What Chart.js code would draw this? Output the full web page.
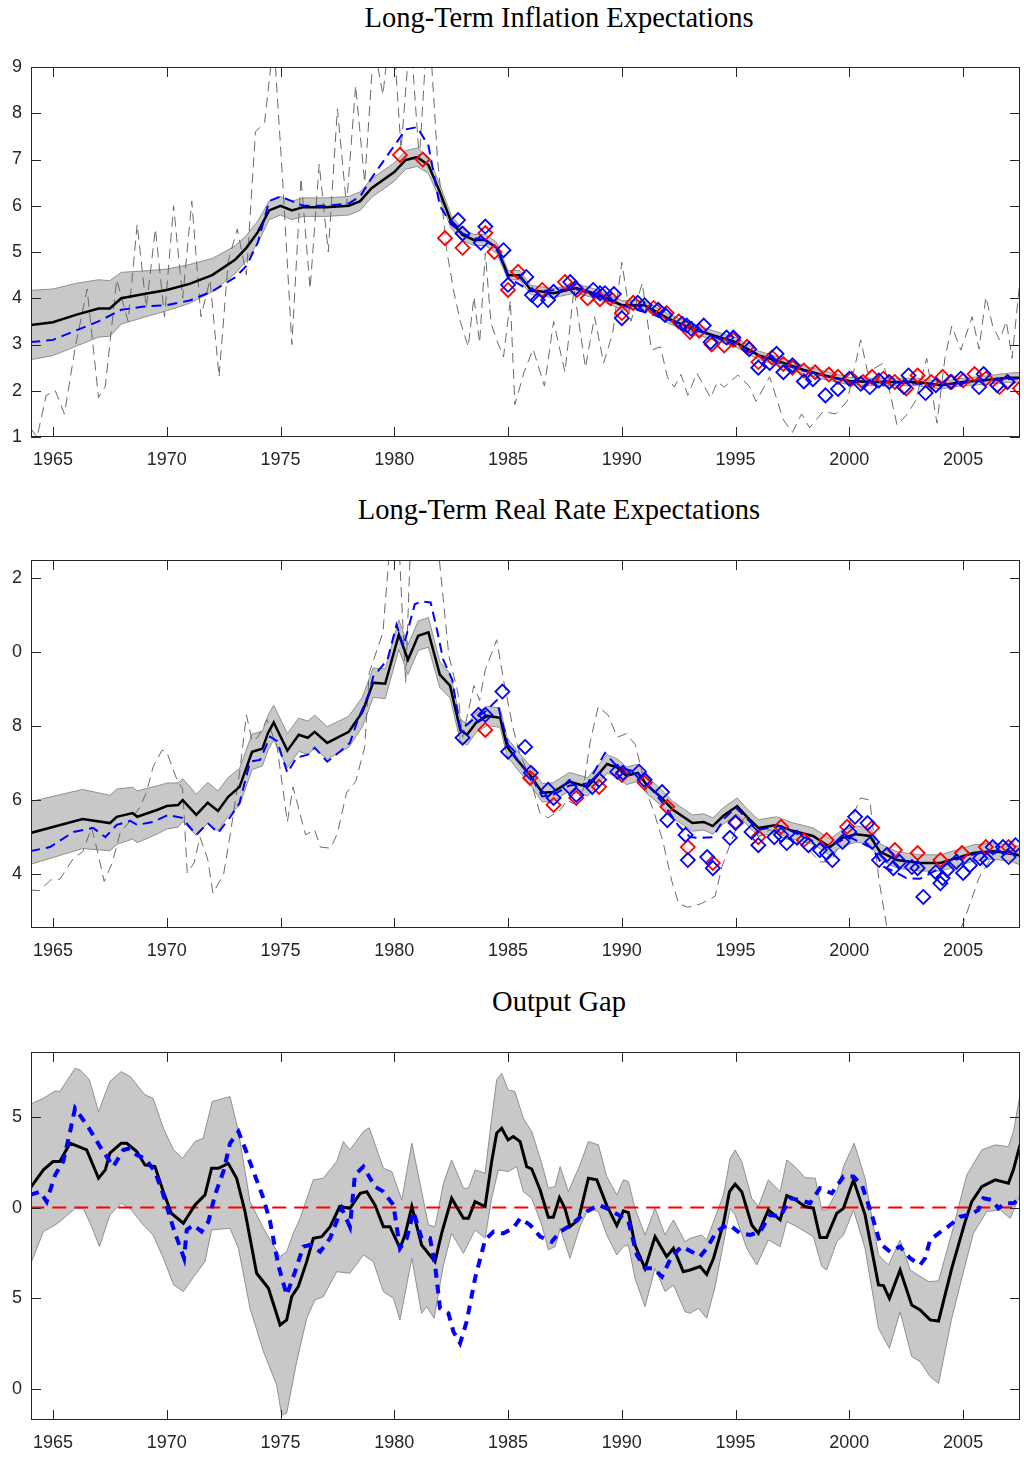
<!DOCTYPE html>
<html>
<head>
<meta charset="utf-8">
<script src="https://cdn.jsdelivr.net/npm/chart.js@4"></script>
<style>
    body { margin: 0; background: #fff; }
    #page { position: relative; width: 1024px; height: 1457px; background: #fff; overflow: hidden; }
    canvas { position: absolute; left: 0; }
    .title { position: absolute; left: 0; width: 1118px; text-align: center; font-family: "Liberation Serif", serif; font-size: 28.5px; line-height: 28px; color: #000; }
</style>
</head>
<body>
<div id="page">
    <div class="title" style="top:4px">Long-Term Inflation Expectations</div>
    <div class="title" style="top:496px">Long-Term Real Rate Expectations</div>
    <div class="title" style="top:988px">Output Gap</div>
    <canvas id="infl" width="1024" height="416" style="top:55px"></canvas>
    <canvas id="real" width="1024" height="414" style="top:548px"></canvas>
    <canvas id="gap" width="1024" height="414" style="top:1040px"></canvas>
</div>
<script>
// ---------- shared axis data ----------
const xMin = 1964.033;
const xMax = 2007.5;
const yearTicks = [1965, 1970, 1975, 1980, 1985, 1990, 1995, 2000, 2005];

// ---------- panel 1: long-term inflation expectations ----------
const inflTicks = [1, 2, 3, 4, 5, 6, 7, 8, 9];
const inflTickLabels = ['1', '2', '3', '4', '5', '6', '7', '8', '9'];

const inflYears = [1964,1965,1966,1967,1967.5,1968,1969,1970,1971,1972,1973,1973.5,1974,1974.5,1975,1975.5,1976,1977,1978,1978.5,1979,1980,1980.5,1981,1981.5,1982,1982.5,1983,1983.5,1984,1984.5,1985,1985.5,1986,1987,1988,1989,1990,1991,1992,1993,1994,1995,1996,1997,1998,1999,2000,2001,2002,2003,2004,2005,2006,2007,2007.5];
const inflMid = [3.42,3.48,3.64,3.78,3.78,4.0,4.09,4.18,4.31,4.5,4.83,5.09,5.43,5.9,6.0,5.9,5.97,5.97,6.0,6.1,6.38,6.73,6.99,7.05,6.88,6.3,5.65,5.37,5.26,5.26,5.09,4.5,4.5,4.18,4.11,4.22,4.07,3.85,3.85,3.57,3.36,3.2,3.05,2.77,2.62,2.45,2.32,2.21,2.19,2.19,2.19,2.12,2.19,2.23,2.28,2.28];
const inflHi = [4.17,4.2,4.32,4.4,4.38,4.56,4.59,4.63,4.73,4.86,5.13,5.36,5.67,6.1,6.2,6.1,6.17,6.17,6.2,6.3,6.58,6.93,7.19,7.25,7.06,6.46,5.79,5.49,5.38,5.38,5.21,4.6,4.6,4.28,4.21,4.32,4.17,3.95,3.95,3.67,3.46,3.3,3.15,2.86,2.71,2.54,2.41,2.29,2.27,2.27,2.27,2.2,2.27,2.32,2.38,2.4];
const inflLo = [2.67,2.76,2.96,3.16,3.18,3.44,3.59,3.73,3.89,4.14,4.53,4.82,5.19,5.7,5.8,5.7,5.77,5.77,5.8,5.9,6.18,6.53,6.79,6.85,6.7,6.14,5.51,5.25,5.14,5.14,4.97,4.4,4.4,4.08,4.01,4.12,3.97,3.75,3.75,3.47,3.26,3.1,2.95,2.68,2.53,2.36,2.23,2.13,2.11,2.11,2.11,2.04,2.11,2.14,2.18,2.16];

const inflAltYears = [1964,1965,1966,1967,1968,1969,1970,1971,1972,1973,1973.5,1974,1974.5,1975,1976,1977,1978,1978.5,1979,1980,1980.5,1981,1981.5,1982,1982.5,1983,1983.5,1984,1984.5,1985,1986,1988,1990,1992,1994,1996,1998,2000,2002,2004,2006,2007.5];
const inflAlt = [3.05,3.1,3.3,3.5,3.75,3.82,3.85,3.95,4.15,4.45,4.7,5.2,6.1,6.2,6.0,6.0,6.05,6.2,6.6,7.3,7.65,7.7,7.3,6.0,5.6,5.4,5.3,5.25,5.1,4.45,4.15,4.2,3.85,3.55,3.18,2.75,2.43,2.2,2.18,2.12,2.22,2.27];

const inflActYears = [1964,1964.3,1964.7,1965.1,1965.5,1966,1966.5,1967,1967.3,1967.8,1968.3,1968.7,1969.1,1969.5,1969.9,1970.3,1970.7,1971.1,1971.5,1971.9,1972.3,1972.7,1973.1,1973.5,1973.9,1974.3,1974.7,1975.1,1975.5,1975.9,1976.3,1976.7,1977.1,1977.5,1977.9,1978.3,1978.7,1979.1,1979.5,1979.9,1980.3,1980.7,1981.1,1981.5,1981.9,1982.3,1982.6,1982.9,1983.25,1983.5,1983.75,1984,1984.25,1984.5,1984.8,1985.1,1985.3,1985.7,1986.1,1986.6,1987,1987.5,1987.9,1988.4,1988.8,1989.2,1989.6,1990,1990.4,1990.9,1991.3,1991.7,1992,1992.3,1992.6,1992.9,1993.3,1993.9,1994.2,1994.5,1995.1,1995.6,1995.9,1996.5,1997.1,1997.5,1997.9,1998.25,1998.85,1999.4,1999.9,2000.5,2000.8,2001.5,2002.1,2002.5,2002.9,2003.4,2003.85,2004.2,2004.5,2004.9,2005.4,2005.7,2006,2006.3,2006.6,2006.9,2007.15,2007.5];
const inflAct = [1.2,1.0,1.9,2.0,1.5,3.0,4.2,1.85,2.1,4.4,3.5,5.6,3.8,5.5,3.6,6.0,4.0,6.1,3.6,4.4,2.3,4.8,5.5,4.5,7.6,7.8,9.6,6.5,3.0,6.6,4.2,6.9,5.0,8.1,6.0,8.6,6.5,9.5,8.4,10.2,7.2,9.8,7.0,10.2,7.0,5.05,4.18,3.5,2.95,4.03,3.03,4.98,3.46,3.1,2.73,3.96,1.7,2.4,2.9,2.1,3.5,2.4,4.2,2.5,3.6,2.6,3.25,4.78,3.5,4.33,2.88,2.95,2.3,2.08,2.35,1.9,2.38,1.85,2.19,2.08,2.34,2.1,1.77,2.3,1.37,1.1,1.5,1.2,1.55,1.5,1.77,3.1,2.4,2.6,1.25,1.47,1.77,2.7,1.3,2.7,3.4,2.88,3.6,2.9,4.03,3.4,3.1,3.5,2.7,4.4];

const inflRedYears = [1980.25,1981.25,1982.23,1983.0,1984.0,1984.4,1985.0,1985.44,1986.5,1987.5,1988.03,1988.5,1989.04,1989.5,1990.0,1990.5,1991.4,1991.97,1992.5,1993.0,1993.4,1993.95,1994.5,1994.9,1995.5,1996.0,1996.6,1997.1,1997.5,1998.0,1998.5,1999.1,1999.5,2000.1,2000.6,2001.0,2001.5,2002.0,2002.5,2003.0,2003.6,2004.1,2004.5,2005.0,2005.5,2006.0,2006.6,2006.95,2007.5];
const inflRed = [7.1,7.0,5.3,5.09,5.41,5.0,4.18,4.57,4.18,4.35,4.18,4.0,3.98,4.0,3.68,3.9,3.79,3.68,3.5,3.27,3.3,3.0,2.98,3.1,2.95,2.62,2.72,2.58,2.5,2.44,2.4,2.35,2.3,2.26,2.19,2.3,2.26,2.19,2.05,2.33,2.19,2.3,2.19,2.22,2.36,2.26,2.08,2.19,2.05];

const inflBlueYears = [1982.8,1983.0,1983.8,1984.0,1984.8,1985.0,1985.8,1986.05,1986.3,1986.76,1987.0,1987.73,1987.96,1988.74,1989.04,1989.26,1989.65,1990.0,1990.7,1991.0,1991.6,1991.9,1992.65,1992.85,1993.05,1993.6,1993.9,1994.6,1994.9,1995.6,1996.0,1996.5,1996.8,1997.1,1997.5,1998.0,1998.4,1998.95,1999.5,2000.0,2000.5,2000.9,2001.3,2001.75,2002.4,2002.6,2003.35,2003.8,2004.45,2004.9,2005.7,2005.9,2006.5,2006.95];
const inflBlue = [5.69,5.4,5.2,5.55,5.04,4.29,4.46,4.07,3.96,3.96,4.14,4.35,4.22,4.18,4.11,4.11,4.09,3.57,3.9,3.85,3.75,3.64,3.45,3.41,3.34,3.41,3.05,3.15,3.15,2.9,2.5,2.6,2.8,2.4,2.55,2.2,2.25,1.9,2.04,2.26,2.15,2.08,2.22,2.19,2.08,2.33,1.95,2.12,2.19,2.26,2.08,2.36,2.12,2.19];

// ---------- panel 2: long-term real rate expectations ----------
const realTicks = [2.4, 2.6, 2.8, 3.0, 3.2];
const realTickLabels = ['4', '6', '8', '0', '2'];

const realYears = [1964,1966.3,1967.5,1967.8,1968.5,1968.7,1969.6,1970,1970.5,1970.7,1971.3,1971.8,1972.25,1972.7,1973.2,1973.75,1974.2,1974.45,1974.7,1975.3,1975.8,1976.2,1976.5,1977.05,1977.5,1978,1978.6,1979.07,1979.6,1980.2,1980.6,1981.05,1981.5,1982,1982.45,1982.9,1983.2,1983.6,1984.1,1984.65,1984.96,1985.4,1985.97,1986.5,1986.98,1987.7,1988.5,1989.35,1989.8,1990.2,1990.7,1991.1,1991.7,1992.25,1993.1,1993.6,1994,1994.45,1995.07,1995.5,1996,1996.8,1997.5,1998.4,1999.15,1999.7,2000.3,2000.9,2001.35,2002.1,2003.1,2004,2004.7,2005.45,2006.3,2007.07,2007.5];
const realMid = [2.511,2.549,2.538,2.555,2.565,2.555,2.574,2.584,2.587,2.6,2.56,2.593,2.571,2.609,2.636,2.731,2.739,2.782,2.81,2.734,2.777,2.769,2.785,2.755,2.769,2.785,2.839,2.918,2.915,3.048,2.98,3.045,3.054,2.94,2.91,2.79,2.777,2.81,2.828,2.823,2.744,2.709,2.668,2.62,2.622,2.65,2.636,2.698,2.688,2.666,2.674,2.641,2.609,2.574,2.538,2.541,2.53,2.557,2.584,2.555,2.525,2.533,2.517,2.503,2.473,2.498,2.508,2.503,2.46,2.438,2.43,2.43,2.443,2.457,2.462,2.457,2.45];
const realHi = [2.596,2.629,2.613,2.63,2.635,2.625,2.639,2.646,2.647,2.658,2.616,2.648,2.625,2.661,2.686,2.779,2.786,2.829,2.857,2.78,2.822,2.814,2.83,2.799,2.812,2.827,2.879,2.958,2.955,3.088,3.02,3.085,3.094,2.975,2.943,2.82,2.805,2.837,2.854,2.849,2.769,2.734,2.693,2.645,2.647,2.675,2.661,2.723,2.712,2.69,2.697,2.664,2.631,2.596,2.56,2.563,2.552,2.579,2.606,2.577,2.547,2.555,2.539,2.525,2.495,2.52,2.53,2.525,2.482,2.46,2.452,2.452,2.465,2.479,2.484,2.479,2.475];
const realLo = [2.426,2.469,2.463,2.48,2.495,2.485,2.509,2.522,2.527,2.542,2.504,2.538,2.517,2.557,2.586,2.683,2.692,2.735,2.763,2.688,2.732,2.724,2.74,2.711,2.726,2.743,2.799,2.878,2.875,3.008,2.94,3.005,3.014,2.905,2.877,2.76,2.749,2.783,2.802,2.797,2.719,2.684,2.643,2.595,2.597,2.625,2.611,2.673,2.664,2.642,2.651,2.618,2.587,2.552,2.516,2.519,2.508,2.535,2.562,2.533,2.503,2.511,2.495,2.481,2.451,2.476,2.486,2.481,2.438,2.416,2.408,2.408,2.421,2.435,2.44,2.435,2.425];

const realAltYears = [1964,1964.87,1965.9,1966.76,1967.3,1967.8,1968.4,1968.7,1969.4,1970.05,1970.67,1971.3,1971.8,1972.25,1972.8,1973.2,1973.66,1974.1,1974.54,1974.85,1975.3,1975.7,1976.2,1976.5,1977.05,1977.6,1978.05,1978.4,1978.9,1979.07,1979.7,1980.1,1980.4,1980.9,1981.2,1981.6,1981.9,1982.15,1982.55,1982.9,1983.5,1984.0,1984.5,1985.0,1985.5,1986.0,1986.5,1987.0,1987.7,1988.5,1989.26,1989.8,1990.7,1991.7,1992.5,1993.0,1993.4,1994.0,1994.5,1995.0,1996.0,1997.0,1998.0,1999.0,2000.0,2001.0,2001.5,2002.1,2002.5,2003.1,2003.8,2004.5,2005.2,2006.0,2007.0,2007.5];
const realAlt = [2.462,2.473,2.514,2.525,2.5,2.533,2.544,2.533,2.541,2.56,2.552,2.506,2.538,2.511,2.555,2.593,2.704,2.709,2.772,2.76,2.674,2.715,2.723,2.742,2.704,2.731,2.755,2.818,2.89,2.934,2.98,3.075,3.016,3.13,3.138,3.135,3.054,2.98,2.926,2.79,2.82,2.84,2.87,2.75,2.7,2.665,2.61,2.615,2.64,2.645,2.728,2.69,2.675,2.6,2.53,2.5,2.498,2.5,2.55,2.58,2.52,2.53,2.5,2.475,2.5,2.47,2.42,2.403,2.389,2.387,2.41,2.435,2.45,2.46,2.455,2.45];

const realActYears = [1964,1964.4,1964.9,1965.3,1965.9,1966.3,1966.7,1967,1967.25,1967.6,1967.95,1968.4,1968.8,1969.1,1969.4,1969.8,1970,1970.45,1970.7,1970.9,1971.2,1971.46,1971.8,1972.03,1972.5,1972.8,1973.2,1973.5,1973.75,1974,1974.4,1974.85,1975.3,1975.55,1976.1,1976.5,1976.75,1977.2,1977.5,1977.9,1978.3,1978.7,1978.9,1979.5,1979.95,1980.2,1980.5,1980.8,1981.1,1981.5,1981.9,1982.4,1982.8,1983,1983.5,1983.75,1984,1984.5,1984.8,1985.2,1985.5,1985.97,1986.4,1986.76,1987.3,1987.6,1987.9,1988.3,1988.6,1988.96,1989.4,1989.8,1990.2,1990.6,1991.1,1991.4,1991.8,1992.2,1992.5,1992.9,1993.5,1994.1,1994.4,1995,1995.5,1996,1996.5,1997,1997.5,1998,1998.7,1999.2,1999.7,2000.1,2000.5,2000.9,2001.3,2001.65,2002.2,2003,2004,2004.5,2005,2005.7,2006.3,2007.1,2007.5];
const realAct = [2.357,2.355,2.384,2.386,2.443,2.46,2.525,2.45,2.38,2.43,2.511,2.545,2.579,2.62,2.69,2.736,2.73,2.655,2.63,2.403,2.43,2.5,2.44,2.348,2.4,2.511,2.674,2.831,2.76,2.77,2.818,2.744,2.541,2.636,2.506,2.52,2.473,2.47,2.51,2.62,2.65,2.744,2.945,3.054,3.4,3.3,2.918,3.45,3.35,3.5,3.3,2.99,2.89,2.77,2.91,2.87,2.953,3.034,2.926,2.8,2.728,2.66,2.565,2.552,2.574,2.6,2.59,2.628,2.755,2.853,2.83,2.77,2.78,2.75,2.62,2.57,2.49,2.38,2.32,2.31,2.32,2.34,2.42,2.52,2.56,2.5,2.52,2.5,2.49,2.48,2.433,2.433,2.5,2.55,2.606,2.6,2.384,2.256,2.12,2.1,2.12,2.2,2.267,2.39,2.45,2.48,2.5];

const realRedYears = [1984.0,1985.97,1987.0,1988.0,1989.0,1990.0,1991.0,1992.0,1992.9,1994.0,1995.0,1996.0,1997.0,1998.0,1999.0,1999.9,2001.0,2002.0,2003.0,2004.0,2004.95,2006.0,2007.0];
const realRed = [2.79,2.66,2.587,2.606,2.636,2.668,2.647,2.582,2.473,2.43,2.541,2.5,2.528,2.492,2.492,2.528,2.525,2.465,2.457,2.438,2.457,2.473,2.473];

const realBlueYears = [1983.0,1983.7,1984.0,1984.75,1985.0,1985.75,1986.0,1986.76,1987.0,1987.7,1988.0,1988.7,1989.0,1989.8,1990.05,1990.76,1991.0,1991.77,1992.0,1992.8,1992.9,1993.75,1994.0,1994.75,1995.0,1995.7,1996.0,1996.7,1997.0,1997.25,1997.7,1998.2,1998.7,1999.0,1999.25,1999.7,2000.0,2000.25,2000.8,2001.0,2001.3,2001.65,2001.93,2002.2,2002.75,2003.0,2003.25,2003.8,2004.0,2004.1,2004.3,2004.7,2005.0,2005.3,2005.75,2006.05,2006.3,2006.75,2007.0,2007.3];
const realBlue = [2.769,2.831,2.831,2.894,2.731,2.744,2.674,2.628,2.606,2.636,2.614,2.636,2.655,2.677,2.674,2.677,2.655,2.622,2.546,2.506,2.438,2.446,2.416,2.498,2.538,2.514,2.478,2.5,2.506,2.484,2.498,2.478,2.465,2.457,2.438,2.487,2.514,2.555,2.538,2.487,2.438,2.452,2.416,2.433,2.419,2.416,2.338,2.405,2.375,2.389,2.411,2.433,2.403,2.424,2.443,2.438,2.473,2.473,2.446,2.478];

// ---------- panel 3: output gap ----------
const gapTicks = [-10, -5, 0, 5];
const gapTickLabels = ['0', '5', '0', '5'];

const gapYears = [1964,1964.58,1965,1965.3,1965.75,1966.48,1967,1967.3,1967.5,1968,1968.24,1968.68,1969.04,1969.48,1969.85,1970.2,1970.73,1971.24,1971.68,1971.97,1972.27,1972.7,1973.07,1973.44,1973.95,1974.47,1974.98,1975.27,1975.49,1975.78,1976.15,1976.44,1976.81,1977.18,1977.6,1978.05,1978.5,1978.79,1979.15,1979.52,1979.81,1980.25,1980.47,1980.77,1981.2,1981.79,1982.08,1982.52,1983.04,1983.26,1983.55,1983.99,1984.28,1984.5,1984.72,1985,1985.23,1985.53,1985.82,1986.04,1986.41,1986.77,1986.99,1987.26,1987.5,1987.72,1988.09,1988.53,1988.9,1989.34,1989.78,1990.07,1990.29,1990.58,1991.02,1991.46,1991.97,1992.27,1992.7,1993.0,1993.44,1993.73,1994.03,1994.47,1994.73,1994.98,1995.27,1995.71,1996,1996.44,1996.96,1997.25,1997.54,1998.05,1998.42,1998.71,1999,1999.45,1999.74,2000.18,2000.69,2001.28,2001.5,2001.76,2002.23,2002.74,2003.11,2003.55,2003.92,2004.5,2005.09,2005.38,2005.82,2006.41,2006.99,2007.21,2007.5];
const gapMid = [1.07,2.08,2.54,2.54,3.55,3.18,1.62,2.08,3.0,3.55,3.55,3.09,2.35,2.26,0.88,-0.31,-0.86,0.15,0.7,2.17,2.17,2.44,1.62,-0.22,-3.62,-4.45,-6.47,-6.19,-4.91,-4.36,-2.98,-1.69,-1.6,-1.05,0.06,-0.04,0.79,0.88,0.15,-1.05,-1.05,-2.24,-1.51,0.06,-2.06,-2.98,-1.42,0.51,-0.59,-0.59,0.33,0.06,2.54,4.1,4.38,3.73,3.92,3.64,2.26,2.13,0.97,-0.53,-0.53,0.55,-0.04,-1.05,-0.68,1.62,1.53,0.11,-0.99,-0.18,-0.28,-2.06,-3.35,-1.6,-2.7,-2.24,-3.53,-3.44,-3.25,-3.68,-2.79,-0.86,0.88,1.29,0.88,-0.96,-1.42,-0.13,-0.68,0.66,0.51,0.06,-0.04,-1.65,-1.65,-0.31,-0.04,1.53,-0.4,-4.26,-4.3,-5.0,-3.44,-5.37,-5.64,-6.19,-6.25,-3.35,-0.77,0.33,1.16,1.53,1.34,2.08,3.46];

const gapHiYears = [1964,1964.58,1965.1,1965.3,1965.97,1966.2,1966.6,1967,1967.5,1968,1968.4,1969.04,1969.4,1969.85,1970.3,1970.7,1971.24,1971.6,1972,1972.78,1973.15,1973.66,1974.25,1974.98,1975.27,1975.56,1975.86,1976.44,1976.88,1977.47,1977.76,1978.05,1978.64,1978.9,1979.52,1979.89,1980.33,1980.77,1981.5,1981.79,1982.16,1982.52,1983.04,1983.26,1983.55,1983.99,1984.28,1984.5,1984.72,1985,1985.3,1985.67,1986.04,1986.48,1986.77,1987.07,1987.29,1987.65,1988.16,1988.53,1988.97,1989.34,1989.78,1990.07,1990.29,1990.58,1991.02,1991.46,1991.9,1992.27,1992.78,1993,1993.51,1993.73,1994.47,1994.76,1994.98,1995.27,1995.71,1996,1996.44,1996.96,1997.25,1997.61,1998.05,1998.5,1998.79,1999,1999.45,1999.74,2000.21,2000.69,2001.28,2001.72,2002.23,2002.67,2003.48,2003.92,2004.5,2005.16,2005.82,2006.41,2006.99,2007.21,2007.5];
const gapHi = [5.7,6.03,6.43,6.4,7.68,7.59,7.04,5.29,6.95,7.5,7.22,6.21,6.03,4.38,3.18,2.72,3.64,3.82,5.85,6.12,4.19,0.33,-1.14,-2.7,-2.43,-1.42,-0.59,1.53,1.62,2.54,3.64,3.18,4.19,4.4,2.17,1.99,0.42,3.55,-0.96,-1.05,1.34,2.63,1.07,1.07,2.08,1.89,4.93,7.04,7.41,6.49,6.4,4.93,4.19,2.44,1.07,1.16,2.26,0.88,2.35,3.64,3.46,1.71,0.7,1.53,1.43,-0.04,-1.51,-0.04,-1.51,-0.68,-1.88,-1.69,-1.51,-1.78,0.7,2.72,3.18,2.54,0.51,0.06,1.53,0.88,2.63,2.26,1.65,1.62,-0.13,-0.13,0.88,2.26,3.55,1.62,-2.61,-3.16,-1.78,-3.44,-4.08,-4.04,-1.42,1.8,3.18,3.46,3.36,4.19,6.21];

const gapLoYears = [1964,1964.58,1965.09,1965.3,1965.97,1966.33,1966.7,1967.04,1967.5,1968,1968.38,1968.97,1969.4,1969.85,1970.3,1970.73,1971.24,1971.68,1971.97,1972.78,1973.15,1973.66,1974.25,1974.83,1975.05,1975.27,1975.71,1976.15,1976.51,1976.88,1977.47,1978.05,1978.64,1979.08,1979.52,1979.96,1980.25,1980.77,1981.2,1981.42,1981.75,1982.16,1982.52,1983.04,1983.55,1983.99,1984.28,1984.57,1985,1985.38,1985.67,1986.04,1986.48,1986.77,1987.07,1987.29,1987.72,1988.16,1988.53,1988.97,1989.34,1989.78,1990.07,1990.29,1990.58,1991.02,1991.46,1991.9,1992.27,1992.78,1993,1993.37,1993.73,1994.1,1994.76,1994.98,1995.49,1995.93,1996.44,1996.96,1997.25,1997.69,1998.05,1998.42,1998.79,1999,1999.45,1999.74,2000.18,2000.69,2001.28,2001.76,2002.23,2002.74,2003.11,2003.55,2003.92,2004.5,2005.09,2005.45,2006.04,2006.63,2007.07,2007.5];
const gapLo = [-3.16,-1.32,-0.96,-0.77,-0.04,-0.04,-1.05,-2.15,-0.4,0.24,-0.04,-0.96,-1.51,-2.79,-4.26,-4.63,-3.71,-2.98,-1.23,-1.14,-2.24,-5.55,-7.94,-9.78,-11.43,-11.34,-8.49,-6.1,-5.09,-4.91,-3.53,-3.62,-2.61,-2.98,-4.63,-5.0,-6.19,-2.79,-5.83,-5.46,-6.1,-3.16,-1.42,-2.52,-1.23,-1.69,0.51,2.08,1.99,2.26,0.88,0.51,-0.96,-2.33,-2.15,-1.14,-2.79,-1.05,-0.04,-0.22,-1.51,-2.61,-2.15,-2.06,-3.9,-5.46,-3.35,-4.63,-4.26,-5.74,-5.83,-5.55,-6.1,-4.36,-0.04,-0.4,-2.24,-3.16,-1.78,-2.15,-0.77,-1.05,-1.32,-1.6,-3.25,-3.44,-1.88,-1.51,-0.13,-2.24,-6.65,-7.76,-5.74,-8.21,-8.49,-9.32,-9.69,-6.1,-3.16,-1.42,-0.22,-0.13,-0.59,0.7];

const gapAltYears = [1964,1964.43,1964.72,1965.09,1965.45,1965.75,1965.97,1966.33,1966.63,1967.07,1967.65,1968.09,1968.38,1968.68,1969.04,1969.48,1969.85,1970.29,1970.76,1970.88,1971.17,1971.53,1971.83,1972.12,1972.49,1972.78,1973.15,1973.44,1973.73,1974.25,1974.54,1974.9,1975.27,1975.64,1976,1976.3,1976.74,1977.18,1977.69,1978.05,1978.27,1978.64,1979.15,1979.52,1979.96,1980.25,1980.55,1980.84,1981.2,1981.57,1981.79,1982.01,1982.38,1982.6,1982.89,1983.18,1983.55,1983.99,1984.36,1984.79,1985.23,1985.53,1985.97,1986.41,1986.92,1987.29,1987.65,1988.02,1988.46,1988.97,1989.34,1989.85,1990.29,1990.66,1991.02,1991.39,1991.76,1992.19,1992.63,1993.07,1993.44,1993.73,1994.17,1994.61,1994.83,1995.2,1995.64,1996.08,1996.52,1996.96,1997.4,1997.83,1998.27,1998.71,1999.23,1999.74,2000.18,2000.55,2000.99,2001.35,2001.79,2002.23,2002.67,2003.11,2003.33,2003.55,2003.92,2004.43,2004.87,2005.31,2005.67,2005.89,2006.26,2006.55,2006.85,2007.21,2007.5];
const gapAlt = [0.7,0.88,0.33,1.8,2.54,4.19,5.48,4.83,4.28,3.36,2.26,3.18,3.27,2.9,2.72,1.99,0.7,-1.14,-2.79,-1.23,-0.96,-1.32,-0.77,0.7,1.99,3.55,4.19,3.27,2.26,0.51,-0.77,-3.16,-4.82,-3.53,-2.15,-2.06,-2.43,-1.69,-0.04,-1.05,1.8,2.26,1.16,0.88,0.15,-2.24,-1.69,-0.22,-1.69,-1.69,-3.16,-5.55,-5.83,-6.84,-7.48,-6.29,-3.9,-1.78,-1.32,-1.42,-1.14,-0.59,-0.96,-1.6,-1.88,-1.32,-1.05,-0.68,-0.22,0.15,-0.04,-0.4,-0.77,-2.61,-3.35,-3.35,-3.81,-2.7,-2.15,-2.43,-2.7,-2.24,-1.32,-0.96,-1.05,-1.42,-1.51,-1.32,-0.4,-0.5,0.51,0.42,0.24,1.07,0.79,1.71,1.71,1.25,-0.4,-1.97,-2.43,-2.15,-2.79,-3.16,-2.79,-1.78,-1.42,-0.96,-0.5,-0.4,-0.13,0.51,0.42,-0.04,0.24,0.24,0.51];

const gapZeroYears = [1964, 2007.5];
const gapZero = [0, 0];

// ---------- styling ----------
const axisColor = '#262626';
const tickFont = {family: '"Liberation Sans", Arial, sans-serif', size: 18};
const bandFill = '#c8c8c8';
const bandEdge = '#8f8f8f';

function pts(xs, ys) {
    return xs.map((x, i) => ({x: x, y: ys[i]}));
}

function lineSet(xs, ys, color, width, dash) {
    return {
        data: pts(xs, ys),
        borderColor: color,
        borderWidth: width,
        borderDash: dash || [],
        pointRadius: 0,
        fill: false,
        tension: 0
    };
}

function diamondSet(xs, ys, color) {
    return {
        data: pts(xs, ys),
        showLine: false,
        pointStyle: 'rectRot',
        pointRadius: 7,
        pointBorderWidth: 1.8,
        pointBorderColor: color,
        pointBackgroundColor: 'rgba(0,0,0,0)',
        borderColor: color,
        backgroundColor: 'rgba(0,0,0,0)'
    };
}

// band: lower edge first in the list so it is drawn after the fill
function addBand(sets, loX, lo, hiX, hi) {
    let lower = lineSet(loX, lo, bandEdge, 1);
    sets.push(lower);
    let upper = lineSet(hiX, hi, bandEdge, 1);
    upper.fill = sets.length - 1;
    upper.backgroundColor = bandFill;
    sets.push(upper);
}

// MATLAB style box with inward ticks on all sides
const boxPlugin = {
    id: 'matBox',
    afterDatasetsDraw(chart) {
        let ctx = chart.ctx;
        let a = chart.chartArea;
        let xs = chart.scales.x;
        let ys = chart.scales.y;
        ctx.save();
        ctx.strokeStyle = axisColor;
        ctx.lineWidth = 1;
        ctx.strokeRect(a.left + 0.5, a.top + 0.5, a.right - a.left - 1, a.bottom - a.top - 1);
        ctx.beginPath();
        xs.ticks.forEach(t => {
            let p = Math.round(xs.getPixelForValue(t.value)) + 0.5;
            ctx.moveTo(p, a.bottom); ctx.lineTo(p, a.bottom - 10);
            ctx.moveTo(p, a.top); ctx.lineTo(p, a.top + 10);
        });
        ys.ticks.forEach(t => {
            let p = Math.round(ys.getPixelForValue(t.value)) + 0.5;
            ctx.moveTo(a.left, p); ctx.lineTo(a.left + 10, p);
            ctx.moveTo(a.right, p); ctx.lineTo(a.right - 10, p);
        });
        ctx.stroke();
        ctx.restore();
    }
};

function makePanel(id, sets, yMin, yMax, yTicks, yLabels) {
    let ctx = document.getElementById(id).getContext('2d');
    return new Chart(ctx, {
        type: 'line',
        data: {datasets: sets},
        options: {
            responsive: false,
            animation: false,
            layout: {autoPadding: false, padding: {top: 12, right: 4, left: 0, bottom: 0}},
            plugins: {legend: {display: false}, tooltip: {enabled: false}},
            scales: {
                x: {
                    type: 'linear',
                    min: xMin,
                    max: xMax,
                    grid: {display: false},
                    border: {display: false},
                    afterBuildTicks: s => { s.ticks = yearTicks.map(v => ({value: v})); },
                    afterFit: s => { s.height = 34; },
                    ticks: {
                        font: tickFont,
                        color: axisColor,
                        padding: 4,
                        maxRotation: 0,
                        autoSkip: false,
                        callback: v => String(v)
                    }
                },
                y: {
                    type: 'linear',
                    min: yMin,
                    max: yMax,
                    grid: {display: false},
                    border: {display: false},
                    afterBuildTicks: s => { s.ticks = yTicks.map(v => ({value: v})); },
                    afterFit: s => { s.width = 31; },
                    ticks: {
                        font: tickFont,
                        color: axisColor,
                        padding: 1,
                        autoSkip: false,
                        callback: (v, i) => yLabels[i]
                    }
                }
            }
        },
        plugins: [boxPlugin]
    });
}

// panel 1
let inflSets = [
    diamondSet(inflBlueYears, inflBlue, '#0000ff'),
    diamondSet(inflRedYears, inflRed, '#ff0000'),
    lineSet(inflAltYears, inflAlt, '#0000ff', 2, [10, 6]),
    lineSet(inflYears, inflMid, '#000000', 2.5),
    lineSet(inflActYears, inflAct, '#6a6a6a', 1, [10, 6])
];
addBand(inflSets, inflYears, inflLo, inflYears, inflHi);
makePanel('infl', inflSets, 1, 9, inflTicks, inflTickLabels);

// panel 2
let realSets = [
    diamondSet(realBlueYears, realBlue, '#0000ff'),
    diamondSet(realRedYears, realRed, '#ff0000'),
    lineSet(realAltYears, realAlt, '#0000ff', 2, [10, 6]),
    lineSet(realYears, realMid, '#000000', 2.5),
    lineSet(realActYears, realAct, '#6a6a6a', 1, [10, 6])
];
addBand(realSets, realYears, realLo, realYears, realHi);
makePanel('real', realSets, 2.254, 3.25, realTicks, realTickLabels);

// panel 3
let gapSets = [
    lineSet(gapAltYears, gapAlt, '#0000ff', 4, [9, 7]),
    lineSet(gapYears, gapMid, '#000000', 3),
    lineSet(gapZeroYears, gapZero, '#ff0000', 2, [14, 8])
];
addBand(gapSets, gapLoYears, gapLo, gapHiYears, gapHi);
makePanel('gap', gapSets, -11.71, 8.58, gapTicks, gapTickLabels);
</script>
</body>
</html>
